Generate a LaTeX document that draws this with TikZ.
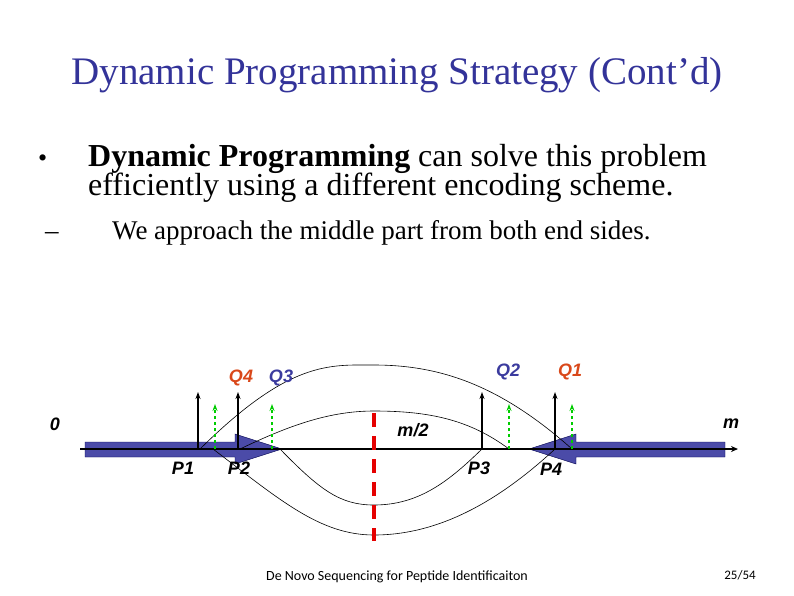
\documentclass[tikz,border=0pt]{standalone}
\usepackage{fontspec}
\setmainfont{Liberation Serif}
\setsansfont{Liberation Sans}
\newfontfamily\carl{Carlito}
\usetikzlibrary{arrows.meta}
\definecolor{ttl}{HTML}{333399}
\definecolor{qblue}{HTML}{3B3B9E}
\definecolor{qred}{HTML}{D9481A}
\definecolor{bigarrow}{HTML}{4B4BA8}
\begin{document}
\begin{tikzpicture}[x=1pt,y=-1pt,
  lbl/.style={font=\sffamily\bfseries\itshape\fontsize{18}{18}\selectfont},
  peak/.style={-{Stealth[length=7pt,width=5pt]},line width=1.3pt},
  guess/.style={-{Stealth[length=7pt,width=5pt]},dashed,green!80!black,line width=1.1pt},
  arc/.style={line width=0.6pt},
  txt/.style={anchor=base west,inner sep=0}]
\useasboundingbox (0,0) rectangle (794,595);
\node[ttl,font=\fontsize{39}{39}\selectfont,anchor=base,inner sep=0] (title) at (397,84) {Dynamic Programming Strategy (Cont’d)};
\node[font=\fontsize{26}{26}\selectfont,txt] (bul) at (38,166) {•};
\node[txt,font=\fontsize{32}{32}\selectfont] (b1) at (88,166) {\textbf{Dynamic Programming} can solve this problem};
\node[txt,font=\fontsize{32}{32}\selectfont] (b1b) at (88,195) {efficiently using a different encoding scheme.};
\node[txt,font=\fontsize{27}{27}\selectfont] (dash) at (45,239) {–};
\node[txt,font=\fontsize{27}{27}\selectfont] (b2) at (112,239) {We approach the middle part from both end sides.};
% big arrows
\fill[bigarrow,draw=black!70!blue,line width=0.4pt] (85,442) -- (235,442) -- (235,434) -- (282,449) -- (235,464) -- (235,457) -- (85,457) -- cycle;
\fill[bigarrow,draw=black!70!blue,line width=0.4pt] (725,442) -- (576,442) -- (576,434) -- (529,449) -- (576,464) -- (576,457) -- (725,457) -- cycle;
% axis
\coordinate (a0) at (80,449);
\coordinate (a1) at (738,449);
\draw[line width=1.3pt,-{Stealth[length=7pt,width=6pt]}] (a0) -- (a1);
% arcs
\draw[arc] (200,449) .. controls (290,360) and (330,365) .. (374,365) .. controls (440,365) and (500,385) .. (572,449);
\draw[arc] (240,449) .. controls (290,425) and (330,411) .. (374,411) .. controls (430,411) and (470,420) .. (509,449);
\draw[arc] (280,449) .. controls (320,490) and (340,505) .. (374,505) .. controls (420,505) and (450,480) .. (482,449);
\draw[arc] (213,449) .. controls (280,500) and (320,535) .. (374,535) .. controls (440,535) and (500,500) .. (555,449);
% red divider
\coordinate (r0) at (374,413);
\coordinate (r1) at (374,541);
\draw[red!90!black,line width=4pt,dash pattern=on 14pt off 9pt] (r0) -- (r1);
% peaks
\foreach \x/\n in {198/p1,238/p2,482/p3,555/p4}{
  \coordinate (\n b) at (\x,449); \coordinate (\n t) at (\x,392);
  \draw[peak] (\n b) -- (\n t);}
\foreach \x/\n in {215/g1,272/g2,509/g3,572/g4}{
  \coordinate (\n b) at (\x,449); \coordinate (\n t) at (\x,404);
  \draw[guess] (\n b) -- (\n t);}
% labels
\node[lbl,qred] (q4) at (241,378) {Q4};
\node[lbl,qblue] (q3) at (281,378) {Q3};
\node[lbl,qblue] (q2) at (508,372) {Q2};
\node[lbl,qred] (q1) at (570,372) {Q1};
\node[lbl] (z) at (55,424) {0};
\node[lbl] (mh) at (413,430) {m/2};
\node[lbl] (m) at (731,424) {m};
\node[lbl] (P1) at (183,468) {P1};
\node[lbl] (P2) at (239,468) {P2};
\node[lbl] (P3) at (479,468) {P3};
\node[lbl] (P4) at (551,469) {P4};
\node[font=\carl\fontsize{14}{14}\selectfont] (foot) at (397,577) {De Novo Sequencing for Peptide Identificaiton};
\node[font=\carl\fontsize{13}{13}\selectfont] (pg) at (740,575) {25/54};
\end{tikzpicture}
\end{document}
